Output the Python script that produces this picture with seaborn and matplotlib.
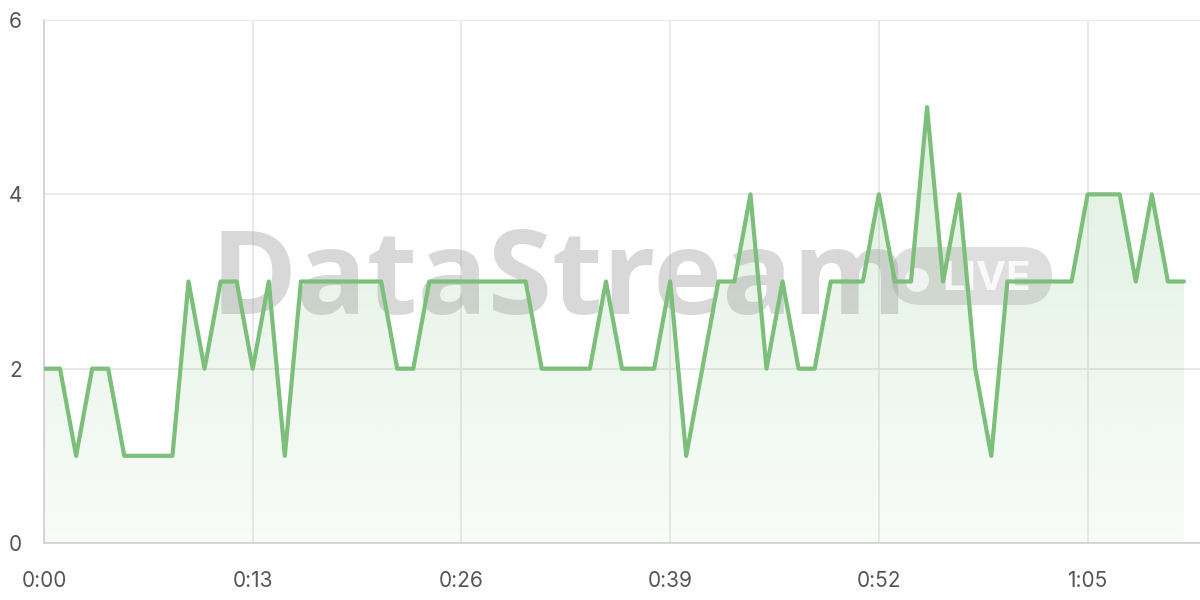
import numpy as np
import pandas as pd
import seaborn as sns
import matplotlib.pyplot as plt
from matplotlib.ticker import FuncFormatter, FixedLocator
from matplotlib.patches import FancyBboxPatch, Ellipse
from matplotlib.colors import to_rgb

seconds = list(range(72))
values = [2, 2, 1, 2, 2, 1, 1, 1, 1, 3, 2, 3, 3, 2, 3, 1, 3, 3, 3, 3,
          3, 3, 2, 2, 3, 3, 3, 3, 3, 3, 3, 2, 2, 2, 2, 3, 2, 2, 2, 3,
          1, 2, 3, 3, 4, 2, 3, 2, 2, 3, 3, 3, 4, 3, 3, 5, 3, 4, 2, 1,
          3, 3, 3, 3, 3, 4, 4, 4, 3, 4, 3, 3]
x_ticks = [0, 13, 26, 39, 52, 65]
y_ticks = [0, 2, 4, 6]

line_color = "#7bbf7b"
grid_color = "#e6e6e6"
text_color = "#555555"

df = pd.DataFrame({"t": seconds, "v": values})

sns.set_style("white")
plt.rcParams["font.family"] = ["Inter", "DejaVu Sans"]

fig = plt.figure(figsize=(12, 6), dpi=100)
ax = fig.add_axes([44 / 1200, 57 / 600, 1 - 44 / 1200, 523 / 600])

# gradient fill under the line
poly = ax.fill_between(df["t"], df["v"], 0, color="none", lw=0)
r, g, b = to_rgb(line_color)
grad = np.zeros((256, 1, 4))
grad[:, 0, 0], grad[:, 0, 1], grad[:, 0, 2] = r, g, b
grad[:, 0, 3] = np.linspace(0.28, 0.05, 256)
img = ax.imshow(grad, aspect="auto", extent=[0, 71, 0, 6], origin="upper", zorder=1)
img.set_clip_path(poly.get_paths()[0], transform=ax.transData)

sns.lineplot(data=df, x="t", y="v", ax=ax, color=line_color, lw=3, zorder=6)

# watermark
ax.text(0.144, 0.497, "DataStream", transform=ax.transAxes, fontsize=84,
        fontweight="bold", family=["Open Sans", "DejaVu Sans"], color="#9a9a9a",
        alpha=0.38, ha="left", va="center", zorder=3)
badge = FancyBboxPatch((891 / 1200, 295 / 600), 161 / 1200, 58 / 600,
                       boxstyle="round,pad=0,rounding_size=0.025",
                       transform=fig.transFigure, fc="#9a9a9a", ec="none",
                       alpha=0.32, zorder=3, mutation_aspect=2, clip_on=False)
ax.add_patch(badge)
dot = Ellipse((917 / 1200, 320 / 600), 24 / 1200, 24 / 600,
              transform=fig.transFigure, fc="white", ec="none", alpha=0.7,
              zorder=4, clip_on=False)
ax.add_patch(dot)
ax.text(987 / 1200, 320 / 600, "LIVE", transform=fig.transFigure, fontsize=29,
        fontweight="bold", color="white", alpha=0.85, ha="center", va="center",
        zorder=4)

ax.set_xlim(0, 72)
ax.set_ylim(0, 6)
ax.xaxis.set_major_locator(FixedLocator(x_ticks))
ax.yaxis.set_major_locator(FixedLocator(y_ticks))
ax.xaxis.set_major_formatter(FuncFormatter(lambda s, _: f"{int(s) // 60}:{int(s) % 60:02d}"))
ax.grid(True, color=grid_color, lw=1.2)
ax.set_axisbelow(True)
ax.set_xlabel("")
ax.set_ylabel("")
for side in ["top", "right"]:
    ax.spines[side].set_visible(False)
for side in ["left", "bottom"]:
    ax.spines[side].set_color("#cfcfcf")
    ax.spines[side].set_linewidth(1.2)
ax.tick_params(axis="both", colors=grid_color, length=8, width=1.2,
               labelcolor=text_color, labelsize=15)
ax.tick_params(axis="x", pad=12)
ax.tick_params(axis="y", pad=8)

fig.savefig("out.png", dpi=100)
